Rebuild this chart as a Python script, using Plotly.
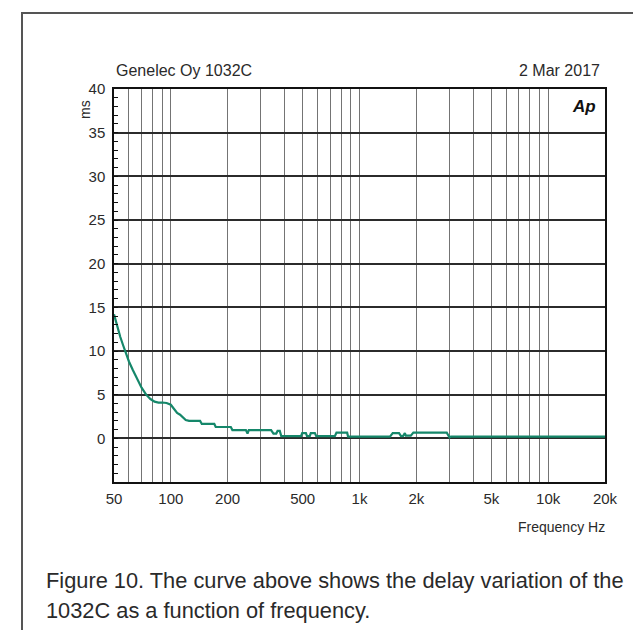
import numpy as np
import plotly.graph_objects as go

# ---- data ----
freq_hz = [50, 52, 54, 56, 58, 60, 63, 66, 70, 74, 78, 82, 86, 90, 95, 100,
           104, 108, 112, 116, 120, 125, 143, 146, 170, 173, 208, 212, 250,
           255, 259, 340, 350, 362, 368, 378, 385, 490, 497, 520, 527, 545,
           552, 580, 590, 740, 755, 860, 870, 1450, 1500, 1620, 1660, 1700,
           1740, 1760, 1870, 1930, 2900, 3000, 3050, 20000]
delay_ms = [14.2, 12.8, 11.6, 10.6, 9.6, 8.8, 7.8, 6.9, 5.8, 5.0, 4.5, 4.2,
            4.1, 4.1, 4.05, 3.85, 3.4, 2.9, 2.7, 2.4, 2.1, 2.0, 2.0, 1.65,
            1.65, 1.3, 1.3, 0.95, 0.95, 0.55, 0.95, 0.95, 0.55, 0.55, 0.85,
            0.85, 0.25, 0.25, 0.6, 0.6, 0.25, 0.25, 0.6, 0.6, 0.25, 0.25,
            0.65, 0.65, 0.2, 0.2, 0.6, 0.6, 0.25, 0.25, 0.6, 0.3, 0.3, 0.65,
            0.65, 0.1, 0.2, 0.2]

x_tick_vals = [50, 100, 200, 500, 1000, 2000, 5000, 10000, 20000]
x_tick_text = ["50", "100", "200", "500", "1k", "2k", "5k", "10k", "20k"]
x_grid_vals = [60, 70, 80, 90, 100, 200, 300, 400, 500, 600, 700, 800, 900,
               1000, 2000, 3000, 4000, 5000, 6000, 7000, 8000, 9000, 10000]
y_tick_vals = [0, 5, 10, 15, 20, 25, 30, 35, 40]

title_left = "Genelec Oy 1032C"
title_right = "2 Mar 2017"
caption_1 = "Figure 10. The curve above shows the delay variation of the"
caption_2 = "1032C as a function of frequency."

FONT = "Liberation Sans, Arial, Helvetica, sans-serif"
TXT = "#2a2a2a"

# combine labelled ticks and unlabelled grid lines
all_vals = sorted(set(x_tick_vals) | set(x_grid_vals))
all_text = [x_tick_text[x_tick_vals.index(v)] if v in x_tick_vals else "" for v in all_vals]

fig = go.Figure()
fig.add_trace(go.Scatter(
    x=freq_hz, y=delay_ms, mode="lines",
    line=dict(color="#15876a", width=2.2),
    hoverinfo="skip", showlegend=False,
))

W, H = 641, 630
L, R, T, B = 106, 597, 81, 474
fig.update_layout(
    width=W, height=H,
    margin=dict(l=L, r=W - R, t=T, b=H - B),
    paper_bgcolor="white", plot_bgcolor="white",
    font=dict(family=FONT, size=15, color=TXT),
    showlegend=False,
)

fig.update_xaxes(
    type="log", range=[np.log10(50), np.log10(20000)],
    tickmode="array", tickvals=all_vals, ticktext=all_text,
    showgrid=True, gridcolor="#747474", gridwidth=1.2,
    showline=True, mirror=True, linecolor="#111", linewidth=1.5,
    ticks="", tickfont=dict(size=15, color=TXT), ticklabelstandoff=2,
    zeroline=False,
)
fig.update_yaxes(
    range=[-5, 40], tickmode="array", tickvals=y_tick_vals,
    showgrid=True, gridcolor="#2b2b2b", gridwidth=1.6,
    showline=True, mirror=True, linecolor="#111", linewidth=1.5,
    ticks="inside", ticklen=4, tickcolor="#111", tickwidth=1,
    minor=dict(dtick=1, tick0=0, ticks="inside", ticklen=4, tickcolor="#111",
               tickwidth=1, showgrid=False),
    tickfont=dict(size=15, color=TXT), ticklabelstandoff=4,
    zeroline=False,
)

pw, ph = R - L, B - T
def px(x):
    return (x - L) / pw
def py(y):
    return (B - y) / ph

# outer frame (only top and left edges visible)
fig.add_shape(type="rect", xref="paper", yref="paper",
              x0=px(14), x1=px(700), y0=py(700), y1=py(5),
              line=dict(color="#555", width=2), fillcolor="rgba(0,0,0,0)", layer="above")

ann = [
    dict(text=title_left, x=px(106), y=py(62.7), xanchor="left", yanchor="middle", size=16),
    dict(text=title_right, x=px(594), y=py(62.7), xanchor="right", yanchor="middle", size=16),
    dict(text="Frequency Hz", x=px(599), y=py(519), xanchor="right", yanchor="middle", size=14),
    dict(text=caption_1, x=px(36), y=py(572), xanchor="left", yanchor="middle", size=21.8),
    dict(text=caption_2, x=px(36), y=py(602), xanchor="left", yanchor="middle", size=21.8),
]
for a in ann:
    fig.add_annotation(text=a["text"], x=a["x"], y=a["y"], xref="paper", yref="paper",
                       xanchor=a["xanchor"], yanchor=a["yanchor"], showarrow=False,
                       font=dict(family=FONT, size=a["size"], color=TXT))

fig.add_annotation(text="ms", x=px(77), y=py(102), xref="paper", yref="paper",
                   textangle=-90, showarrow=False, xanchor="center", yanchor="middle",
                   font=dict(family=FONT, size=14, color=TXT))
fig.add_annotation(text="<b><i>Ap</i></b>", x=px(576), y=py(99), xref="paper", yref="paper",
                   showarrow=False, xanchor="center", yanchor="middle",
                   font=dict(family=FONT, size=17, color="#111"))

fig.write_html("out.html")
